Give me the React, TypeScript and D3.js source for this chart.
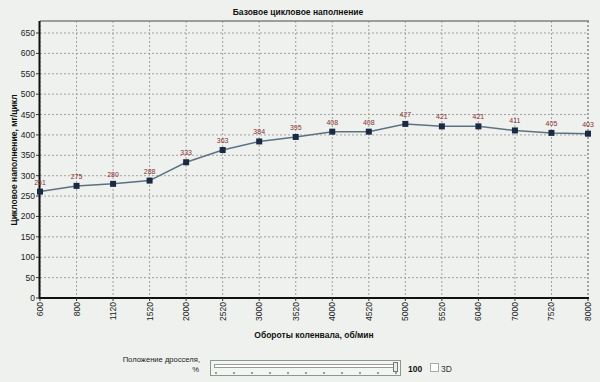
import React, { useEffect, useRef } from "react";
import * as d3 from "d3";

const categories = ["600", "800", "1120", "1520", "2000", "2520", "3000", "3520", "4000", "4520", "5000", "5520", "6040", "7000", "7520", "8000"];
const values = [261, 275, 280, 288, 333, 363, 384, 395, 408, 408, 427, 421, 421, 411, 405, 403];
const yTicks = [0, 50, 100, 150, 200, 250, 300, 350, 400, 450, 500, 550, 600, 650];
const title = "Базовое цикловое наполнение";
const xLabel = "Обороты коленвала, об/мин";
const yLabel = "Цикловое наполнение, мг/цикл";

const W = 600, H = 382;
const L = 40, R = 588, T = 21, B = 298;
const FONT = "'Liberation Sans', Arial, sans-serif";

export default function App() {
  const ref = useRef<SVGSVGElement>(null);
  useEffect(() => {
    const svg = d3.select(ref.current);
    svg.selectAll("*").remove();
    svg.append("rect").attr("width", W).attr("height", H).attr("fill", "#eef1ee");

    const x = d3.scalePoint<string>().domain(categories).range([L, R]);
    const y = d3.scaleLinear().domain([0, 650]).range([B, 33]);

    // grid
    const g = svg.append("g");
    yTicks.slice(1).forEach(t => {
      g.append("line").attr("x1", L).attr("x2", R).attr("y1", y(t)).attr("y2", y(t))
        .attr("stroke", "#a0a0a0").attr("stroke-width", 1).attr("stroke-dasharray", "2,2");
    });
    categories.forEach(c => {
      g.append("line").attr("x1", x(c)!).attr("x2", x(c)!).attr("y1", T).attr("y2", B)
        .attr("stroke", c === categories[categories.length - 1] ? "#555" : "#a0a0a0")
        .attr("stroke-width", 1).attr("stroke-dasharray", "2,2");
    });
    // top border
    svg.append("line").attr("x1", L).attr("x2", R + 1).attr("y1", T).attr("y2", T).attr("stroke", "#808080").attr("stroke-width", 1.5);
    // axes
    svg.append("line").attr("x1", L - 0.5).attr("x2", L - 0.5).attr("y1", T).attr("y2", B + 1).attr("stroke", "#111").attr("stroke-width", 2);
    svg.append("line").attr("x1", L - 1).attr("x2", R + 1).attr("y1", B).attr("y2", B).attr("stroke", "#111").attr("stroke-width", 2);

    // y ticks
    yTicks.forEach(t => {
      svg.append("line").attr("x1", L - 4).attr("x2", L - 1).attr("y1", y(t)).attr("y2", y(t)).attr("stroke", "#333");
      svg.append("text").attr("x", L - 5).attr("y", y(t) + 3).attr("text-anchor", "end")
        .attr("font-family", FONT).attr("font-size", 8.5).attr("fill", "#222").text(String(t));
    });
    // x ticks
    categories.forEach(c => {
      svg.append("line").attr("x1", x(c)!).attr("x2", x(c)!).attr("y1", B).attr("y2", B + 3).attr("stroke", "#333");
      svg.append("text").attr("transform", `translate(${x(c)! + 3},${B + 4}) rotate(-90)`)
        .attr("text-anchor", "end").attr("font-family", FONT).attr("font-size", 8.5).attr("fill", "#222").text(c);
    });

    // line
    const line = d3.line<number>().x((d, i) => x(categories[i])!).y(d => y(d));
    svg.append("path").attr("d", line(values)!).attr("fill", "none").attr("stroke", "#5c7282").attr("stroke-width", 1.5);
    values.forEach((v, i) => {
      svg.append("rect").attr("x", x(categories[i])! - 3).attr("y", y(v) - 3).attr("width", 6).attr("height", 6).attr("fill", "#1b2a42");
      svg.append("text").attr("x", x(categories[i])!).attr("y", y(v) - 7).attr("text-anchor", "middle")
        .attr("font-family", FONT).attr("font-size", 7).attr("fill", "#8a3030").text(String(v));
    });

    // titles
    svg.append("text").attr("x", 298).attr("y", 15).attr("text-anchor", "middle").attr("font-family", FONT)
      .attr("font-weight", "bold").attr("font-size", 8.5).attr("fill", "#111").text(title);
    svg.append("text").attr("x", 314).attr("y", 338).attr("text-anchor", "middle").attr("font-family", FONT)
      .attr("font-weight", "bold").attr("font-size", 8.5).attr("fill", "#111").text(xLabel);
    svg.append("text").attr("transform", `translate(17,160) rotate(-90)`).attr("text-anchor", "middle").attr("font-family", FONT)
      .attr("font-weight", "bold").attr("font-size", 8.5).attr("fill", "#111").text(yLabel);

    // bottom controls
    svg.append("text").attr("x", 200).attr("y", 362).attr("text-anchor", "end").attr("font-family", FONT)
      .attr("font-size", 7.6).attr("fill", "#222").text("Положение дросселя,");
    svg.append("text").attr("x", 199).attr("y", 372).attr("text-anchor", "end").attr("font-family", FONT)
      .attr("font-size", 7.6).attr("fill", "#222").text("%");
    svg.append("rect").attr("x", 210.5).attr("y", 360.5).attr("width", 190).attr("height", 15).attr("fill", "#f3f5f3").attr("stroke", "#8a9a8a");
    svg.append("rect").attr("x", 214.5).attr("y", 364.5).attr("width", 182).attr("height", 3).attr("fill", "#ffffff").attr("stroke", "#999");
    for (let i = 0; i <= 10; i++) {
      const tx = 216 + i * 18;
      svg.append("line").attr("x1", tx).attr("x2", tx).attr("y1", 372).attr("y2", 374).attr("stroke", "#444");
    }
    svg.append("rect").attr("x", 393.5).attr("y", 362.5).attr("width", 4).attr("height", 9).attr("fill", "#e8ece8").attr("stroke", "#777");
    svg.append("text").attr("x", 408).attr("y", 372).attr("font-family", FONT).attr("font-weight", "bold")
      .attr("font-size", 8.5).attr("fill", "#111").text("100");
    svg.append("rect").attr("x", 430.5).attr("y", 363.5).attr("width", 8).attr("height", 8).attr("fill", "#ffffff").attr("stroke", "#aaa");
    svg.append("text").attr("x", 441).attr("y", 372).attr("font-family", FONT)
      .attr("font-size", 8.5).attr("fill", "#333").text("3D");
  }, []);
  return (
    <svg ref={ref} width={W} height={H} style={{ position: "absolute", left: 0, top: 0, display: "block" }} />
  );
}
